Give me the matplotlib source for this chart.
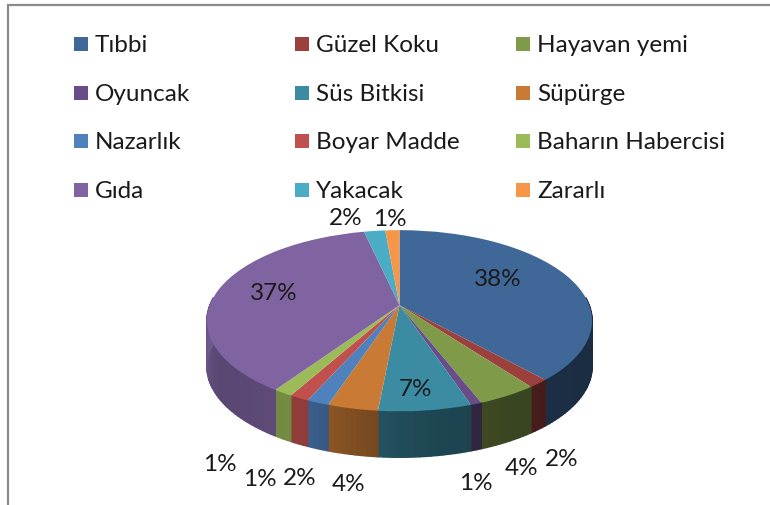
import numpy as np
import matplotlib
matplotlib.use("Agg")
import matplotlib.pyplot as plt
from matplotlib.transforms import Transform
from matplotlib.patches import Rectangle
from matplotlib.colors import to_rgb

categories = ["Tıbbi", "Güzel Koku", "Hayavan yemi", "Oyuncak", "Süs Bitkisi", "Süpürge",
              "Nazarlık", "Boyar Madde", "Baharın Habercisi", "Gıda", "Yakacak", "Zararlı"]
values = [38.3, 1.5, 4.3, 0.8, 6.6, 3.6, 1.6, 1.4, 1.4, 37.0, 2.1, 1.4]
colors = ["#3F6899", "#9C403D", "#7F9A48", "#684D88", "#3B8BA3", "#C97A35",
          "#4F81BD", "#C0504D", "#9BBB59", "#8064A2", "#4BACC6", "#F79646"]

# layout (pixels of the 770x506 canvas)
label_xy = [(498, 279.5), (562, 460), (522, 468.5), (476, 484), (415, 389.5), (349, 484.5),
            (300, 478.5), (260, 479.5), (220, 464.5), (274, 293.5), (346, 218.5), (390, 219.5)]
CX, CY, RX, RY, K, DEPTH = 399.5, 306.2, 189.7, 87.9, 0.1714, 46
FONT = "Lato"
TXT = "#1a1a1a"


class Perspective(Transform):
    input_dims = output_dims = 2

    def __init__(self, shift=0.0):
        super().__init__()
        self.shift = shift

    def transform_non_affine(self, xy):
        xy = np.asarray(xy, dtype=float)
        w = 1 + K * xy[:, 1]
        return np.column_stack([CX + RX * xy[:, 0] / w,
                                CY - RY * xy[:, 1] / w + self.shift])


fig = plt.figure(figsize=(7.7, 5.06), dpi=100, facecolor="white")
ax = fig.add_axes([0, 0, 1, 1])
wedges, _ = ax.pie(values, colors=colors, startangle=90, counterclock=False,
                   wedgeprops=dict(linewidth=0))
ax.set_aspect("auto")
ax.set_xlim(0, 770)
ax.set_ylim(506, 0)
ax.axis("off")

top = Perspective(0) + ax.transData
bottom = Perspective(DEPTH)

# side wall, built from the same values
edges = np.concatenate([[0], np.cumsum(values)]) / np.sum(values) * 360
shade_t = [90, 150, 175, 190, 205, 240, 270]
shade_v = [0.42, 0.45, 0.52, 0.62, 0.75, 0.70, 0.88]
for i, col in enumerate(colors):
    a0, a1 = max(edges[i], 85), min(edges[i + 1], 275)
    if a1 <= a0:
        continue
    steps = np.linspace(a0, a1, max(2, int((a1 - a0) / 1.5) + 2))
    base = np.array(to_rgb(col))
    for t0, t1 in zip(steps[:-1], steps[1:]):
        th = np.radians([t0, t1])
        rim = np.column_stack([np.sin(th), np.cos(th)])
        up = Perspective(0).transform_non_affine(rim)
        lo = bottom.transform_non_affine(rim)
        poly = np.vstack([up, lo[::-1]])
        c = tuple(base * np.interp((t0 + t1) / 2, shade_t, shade_v))
        ax.fill(poly[:, 0], poly[:, 1], facecolor=c, edgecolor=c, lw=1.0, zorder=1)

for w in wedges:
    w.set_transform(top)
    w.set_clip_on(False)
    w.set_zorder(2)

# percent labels
for v, (x, y) in zip(values, label_xy):
    ax.text(x, y, f"{v:.0f}%", ha="center", va="center", fontsize=17.5,
            family=FONT, color=TXT, zorder=5)

# legend grid
col_x = [74, 295, 516]
row_y = [45, 93.5, 142, 190.5]
for i, (name, col) in enumerate(zip(categories, colors)):
    x, y = col_x[i % 3], row_y[i // 3]
    ax.add_patch(Rectangle((x, y - 7), 14, 14, facecolor=col, edgecolor="none", zorder=5))
    ax.text(x + 21, y + 0.5, name, ha="left", va="center", fontsize=17.5, family=FONT,
            color=TXT, zorder=5)

# chart border
ax.plot([770, 8, 8], [6, 6, 506], color="#8a8a8a", lw=1.6, zorder=6, solid_joinstyle="miter")

fig.savefig("out.png", dpi=100)
